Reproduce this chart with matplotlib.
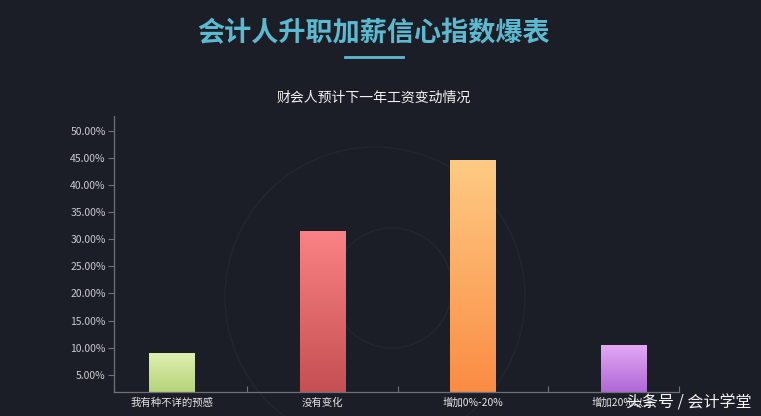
import matplotlib
matplotlib.use("Agg")
import matplotlib.pyplot as plt
import numpy as np
from matplotlib.colors import LinearSegmentedColormap
from matplotlib.patches import Circle

plt.rcParams['font.family'] = ['Noto Sans CJK SC', 'DejaVu Sans']

# data
categories = ["我有种不详的预感", "没有变化", "增加0%-20%", "增加20%以上"]
values = [9.0, 31.5, 44.6, 10.5]   # percent
yticks = [5, 10, 15, 20, 25, 30, 35, 40, 45, 50]
grad_top = ["#dfefb0", "#fa8284", "#fecb84", "#e2a8f4"]
grad_bottom = ["#b6d47a", "#c64f53", "#fb8c44", "#b068d6"]

BG = "#1c1e27"

fig = plt.figure(figsize=(7.61, 4.16), dpi=100, facecolor=BG)

# faint decorative rings in the background (pixel centre, radius)
for (cx, cy, r) in [(375, 297, 150), (392, 288, 60)]:
    ring = Circle((cx / 100, (416 - cy) / 100), r / 100, transform=fig.dpi_scale_trans,
                  fill=False, edgecolor="#22252e", linewidth=1.2, zorder=-5)
    fig.patches.append(ring)

# axes placed in pixel terms: left 114, right 679, top 116, bottom 392
ax = fig.add_axes([114 / 761, 1 - 392 / 416, (679 - 114) / 761, (392 - 116) / 416])
ax.set_facecolor("none")
ax.set_zorder(1)

x = np.arange(len(categories))
bars = ax.bar(x, values, width=0.3, color="none", zorder=2)

ylo, yhi = 1.85, 52.7
xlo, xhi = -0.385, 3.37

for b, top, bot in zip(bars, grad_top, grad_bottom):
    cmap = LinearSegmentedColormap.from_list("g", [bot, top])
    x0, w, h = b.get_x(), b.get_width(), b.get_height()
    grad = np.linspace(0, 1, 200).reshape(-1, 1)
    im = ax.imshow(grad, cmap=cmap, origin="lower", aspect="auto",
                   extent=[x0, x0 + w, ylo, h], zorder=2)
    im.set_clip_path(b)

ax.set_xlim(xlo, xhi)
ax.set_ylim(ylo, yhi)

ax.set_yticks(yticks)
ax.set_yticklabels([f"{v:.2f}%" for v in yticks])
ax.set_xticks(x)
ax.set_xticklabels(categories)
ax.set_xticks([xlo, 0.5, 1.5, 2.5, xhi], minor=True)

ax.tick_params(axis="y", colors="#6e717a", labelcolor="#c9cbd0", labelsize=7.5,
               length=4, width=0.8, pad=2)
ax.tick_params(axis="x", which="major", length=0, labelcolor="#e6e6e6", labelsize=7.5, pad=4)
ax.tick_params(axis="x", which="minor", colors="#6e717a", length=4, width=0.8, direction="in")

for s in ["top", "right"]:
    ax.spines[s].set_visible(False)
for s in ["left", "bottom"]:
    ax.spines[s].set_color("#6e717a")
    ax.spines[s].set_linewidth(0.9)

# titles
fig.text(374 / 761, 1 - 33 / 416, "会计人升职加薪信心指数爆表", ha="center", va="center",
         fontsize=19.5, fontweight="heavy", color="#5cbad0")
fig.add_artist(plt.Line2D([345 / 761, 403 / 761], [1 - 57 / 416, 1 - 57 / 416],
                          color="#5cbad0", linewidth=2))
fig.text(374 / 761, 1 - 98 / 416, "财会人预计下一年工资变动情况", ha="center", va="center",
         fontsize=10, color="#f2f2f2")

# watermark (overlaps the last category label, as in the source)
fig.text(752 / 761, 1 - 403 / 416, "头条号 / 会计学堂", ha="right", va="center",
         fontsize=11.5, color="#f5f5f5", zorder=5)

fig.savefig("out.png", dpi=100, facecolor=BG)
